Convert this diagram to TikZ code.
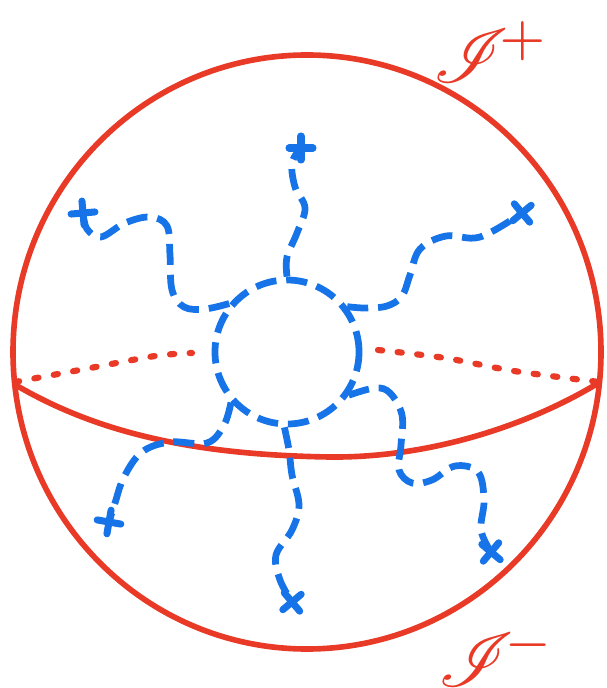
\documentclass[tikz,border=0pt]{standalone}
\usepackage{amsmath,amssymb}
\usepackage{mathrsfs}
\usepackage{xcolor}
\usepackage{tikz}
\definecolor{scriRed}{HTML}{E83A26}
\definecolor{propBlue}{HTML}{1774E8}
\tikzset{
  sphere/.style={scriRed,line width=4pt},
  backeq/.style={scriRed,line width=4.4pt,line cap=round,dash pattern=on 3pt off 11pt},
  propline/.style={propBlue,line width=4.8pt,dash pattern=on 15pt off 7pt},
  xstroke/.style={propBlue,line width=5pt,line cap=round},
  loopnode/.style={circle,draw=propBlue,line width=4.8pt,dash pattern=on 15pt off 7pt,minimum size=3.6cm,inner sep=0pt},
  scrilabel/.style={text=scriRed,scale=5.4,inner sep=0pt}
}
\newcommand{\xmark}[2]{%
  \draw[xstroke,shift={(#1)},rotate=#2] (-12,0) -- (12,0) (0,-12) -- (0,12);
}

\begin{document}
\begin{tikzpicture}[x=0.025cm,y=-0.025cm]
\useasboundingbox (0,0) rectangle (606,688);
\draw[sphere] (307,352) ellipse [x radius=294, y radius=297];
\draw[backeq] plot[smooth] coordinates {(15,382) (85,369) (155,356) (192,353)};
\draw[backeq] plot[smooth] coordinates {(378,350) (445,358) (514,371) (599,382)};
\draw[sphere] (14,384) .. controls (100,435) and (200,455) .. (330,457)
  .. controls (430,458) and (530,425) .. (600,382);
\node[loopnode] (loop) at (287,352) {};
\coordinate (xt) at (301,148);
\coordinate (xul) at (83,213);
\coordinate (xur) at (522,213);
\coordinate (xll) at (109,522);
\coordinate (xlm) at (292,602);
\coordinate (xlr) at (491,552);
\draw[propline] plot[smooth,tension=0.6] coordinates {(loop.90) (287,257) (297,233) (305,208)
  (295,187) (292,163) (xt)};
\draw[propline] plot[smooth,tension=0.6] coordinates {(loop.140) (205,309) (184,307) (172,290)
  (170,255) (167,226) (150,217) (125,223) (101,237) (87,229) (xul)};
\draw[propline] plot[smooth,tension=0.6] coordinates {(loop.37) (365,308) (387,306) (402,296)
  (410,275) (420,249) (446,236) (480,237) (xur)};
\draw[propline] plot[smooth,tension=0.6] coordinates {(loop.222) (224,425) (207,443) (170,442)
  (142,452) (124,477) (115,503) (xll)};
\draw[propline] plot[smooth,tension=0.6] coordinates {(loop.268) (289,450) (292,475) (299,505)
  (292,530) (276,555) (280,580) (xlm)};
\draw[propline] plot[smooth,tension=0.6] coordinates {(loop.325) (375,388) (390,393) (402,415)
  (401,445) (399,470) (412,483) (432,480) (455,466) (478,472) (484,500) (481,530) (xlr)};
\xmark{xt}{0}
\xmark{xul}{5}
\xmark{xur}{40}
\xmark{xll}{-10}
\xmark{xlm}{40}
\xmark{xlr}{50}
\node[scrilabel] (scriplus) at (492,52) {$\mathscr{I}^{\!+}$};
\node[scrilabel] (scriminus) at (497,656) {$\mathscr{I}^{\!-}$};
\end{tikzpicture}
\end{document}
